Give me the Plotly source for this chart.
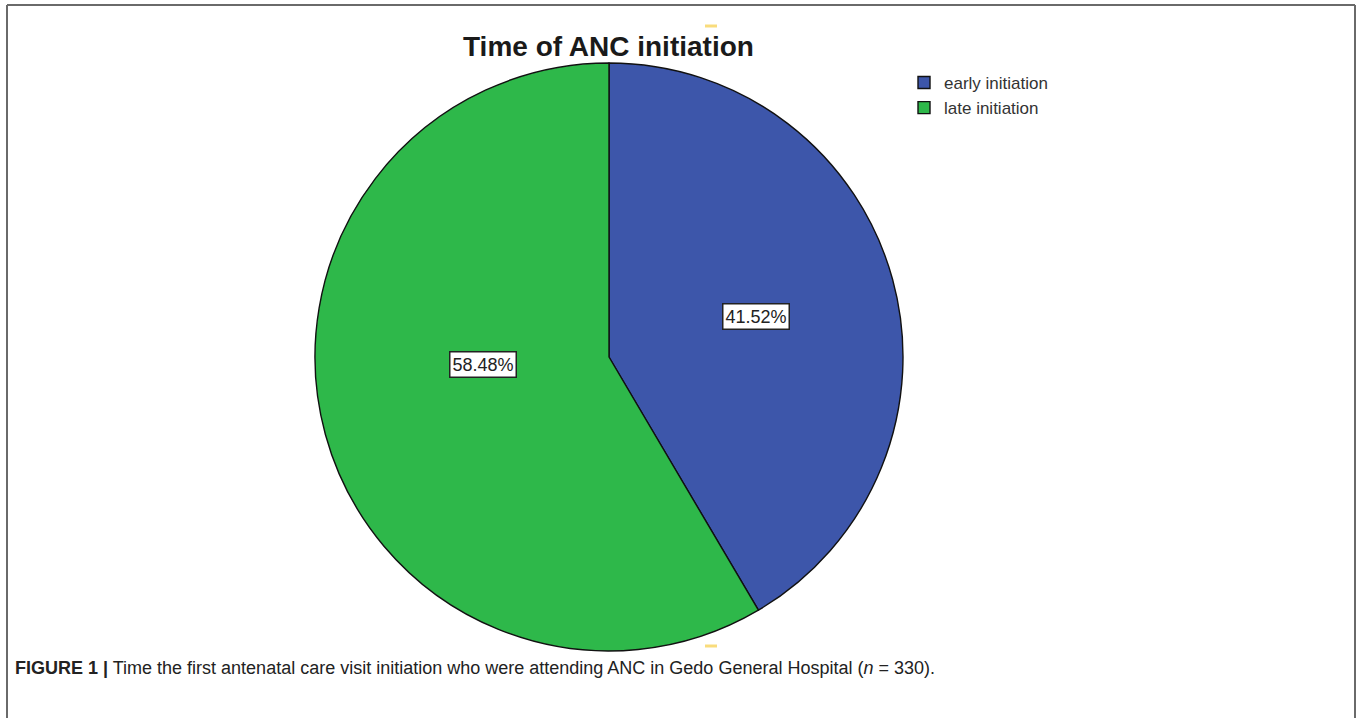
import math
import plotly.graph_objects as go

W, H = 1360, 718

categories = ["early initiation", "late initiation"]
counts = [137, 193]
colors = ["#3D56AA", "#2EB84A"]
title_text = "Time of ANC initiation"
caption_bold = "FIGURE 1 |"
caption_rest = " Time the first antenatal care visit initiation who were attending ANC in Gedo General Hospital (<i>n</i> = 330)."

# pie geometry (pixels)
cx, cy, r = 609, 357, 294
dom_x = [(cx - r) / W, (cx + r) / W]
dom_y = [(H - cy - r) / H, (H - cy + r) / H]

fig = go.Figure()
fig.add_trace(go.Pie(
    labels=categories,
    values=counts,
    sort=False,
    direction="clockwise",
    rotation=0,
    marker=dict(colors=colors, line=dict(color="#111111", width=1.4)),
    textinfo="none",
    hoverinfo="label+percent",
    domain=dict(x=dom_x, y=dom_y),
))

# percent labels in boxes, placed from the data angles
total = sum(counts)
label_r = [0.52, 0.43]
label_shift = [0, 12]
start = 0.0
for i, v in enumerate(counts):
    frac = v / total
    mid = (start + frac / 2) * 2 * math.pi + math.radians(label_shift[i])
    start += frac
    px = cx + label_r[i] * r * math.sin(mid)
    py = cy - label_r[i] * r * math.cos(mid)
    fig.add_annotation(
        x=px / W, y=1 - py / H, xref="paper", yref="paper",
        xanchor="center", yanchor="middle",
        text=f"{frac*100:.2f}%", showarrow=False,
        font=dict(family="Liberation Sans, Arial", size=18, color="#222222"),
        bgcolor="white", bordercolor="#222222", borderwidth=1.5, borderpad=2,
    )

# title
fig.add_annotation(
    x=608 / W, y=1 - 46 / H, xref="paper", yref="paper",
    xanchor="center", yanchor="middle",
    text="<b>" + title_text + "</b>", showarrow=False,
    font=dict(family="Liberation Sans, Arial", size=28, color="#1a1a1a"),
)

# caption
fig.add_annotation(
    x=13 / W, y=1 - 668 / H, xref="paper", yref="paper",
    xanchor="left", yanchor="middle",
    text="<b>" + caption_bold + "</b>" + caption_rest, showarrow=False,
    font=dict(family="Liberation Sans, Arial", size=18, color="#222222"),
)

# frame lines
frame = dict(color="#6a6a6a", width=2)
fig.add_shape(type="line", xref="paper", yref="paper", x0=7 / W, x1=1355 / W, y0=1 - 5 / H, y1=1 - 5 / H, line=frame)
fig.add_shape(type="line", xref="paper", yref="paper", x0=7 / W, x1=7 / W, y0=1 - 5 / H, y1=0, line=frame)
fig.add_shape(type="line", xref="paper", yref="paper", x0=1355 / W, x1=1355 / W, y0=1 - 5 / H, y1=0, line=frame)

# small yellow marks
for yy in (26, 646):
    fig.add_shape(type="rect", xref="paper", yref="paper",
                  x0=705 / W, x1=717 / W, y0=1 - (yy + 1.5) / H, y1=1 - (yy - 1.5) / H,
                  fillcolor="#f9dc7c", line=dict(width=0))

fig.update_layout(
    width=W, height=H,
    margin=dict(l=0, r=0, t=0, b=0),
    paper_bgcolor="white", plot_bgcolor="white",
    showlegend=True,
    legend=dict(
        x=904 / W, y=1 - 65 / H, xanchor="left", yanchor="top",
        font=dict(family="Liberation Sans, Arial", size=17, color="#333333"),
        bgcolor="rgba(0,0,0,0)", itemwidth=30, tracegroupgap=0,
    ),
)

fig.write_html(
    "out.html",
    config={"displayModeBar": False},
    post_script="document.body.style.margin='0';document.body.style.overflow='hidden';",
)
